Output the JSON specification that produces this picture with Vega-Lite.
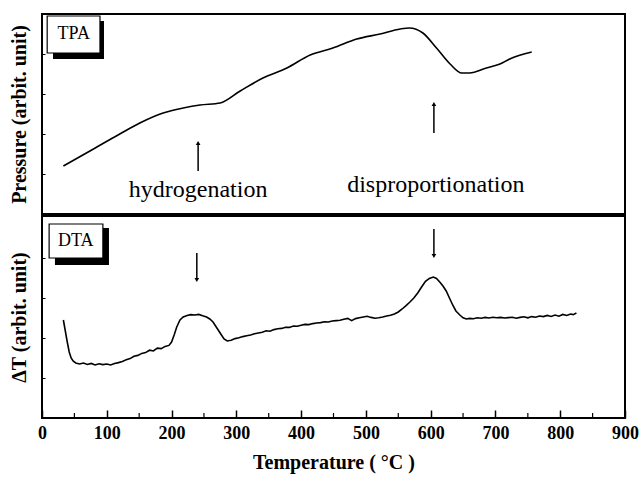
{
  "$schema": "https://vega.github.io/schema/vega-lite/v6.json",
  "padding": {"left": 8, "top": 13, "right": 14, "bottom": 5},
  "spacing": 0,
  "config": {
    "font": "Liberation Serif",
    "view": {"stroke": "black", "strokeWidth": 2},
    "axis": {"grid": false, "domain": false, "labelFont": "Liberation Serif", "titleFont": "Liberation Serif", "titleColor": "black", "labelColor": "black", "tickColor": "black"}
  },
  "datasets": {
    "tpa": [
      {"T": 33, "v": 24}, {"T": 74, "v": 31.5}, {"T": 120, "v": 40}, {"T": 151, "v": 45.5}, {"T": 187, "v": 50.5},
      {"T": 218, "v": 53}, {"T": 244, "v": 54.5}, {"T": 275, "v": 55.5}, {"T": 306, "v": 61.5}, {"T": 341, "v": 68},
      {"T": 378, "v": 73}, {"T": 414, "v": 79.5}, {"T": 449, "v": 83}, {"T": 486, "v": 87.5}, {"T": 522, "v": 90},
      {"T": 553, "v": 92.5}, {"T": 567, "v": 93}, {"T": 588, "v": 90.5}, {"T": 609, "v": 83}, {"T": 630, "v": 75},
      {"T": 648, "v": 70.5}, {"T": 660, "v": 70.5}, {"T": 686, "v": 73}, {"T": 707, "v": 75}, {"T": 722, "v": 77.5},
      {"T": 756, "v": 81}
    ],
    "dta": [
      {"T": 33, "v": 49}, {"T": 36, "v": 43.5}, {"T": 39, "v": 38}, {"T": 42, "v": 33}, {"T": 45, "v": 30},
      {"T": 48, "v": 28.5}, {"T": 52, "v": 27.5}, {"T": 58, "v": 27}, {"T": 64, "v": 27.5}, {"T": 70, "v": 26.8},
      {"T": 76, "v": 27.3}, {"T": 82, "v": 26.5}, {"T": 88, "v": 27.1}, {"T": 94, "v": 26.7}, {"T": 100, "v": 27},
      {"T": 106, "v": 26.5}, {"T": 112, "v": 27.3}, {"T": 118, "v": 27.7}, {"T": 124, "v": 28.3}, {"T": 130, "v": 29.1},
      {"T": 136, "v": 29.7}, {"T": 142, "v": 30.9}, {"T": 148, "v": 31.3}, {"T": 154, "v": 32.3}, {"T": 160, "v": 32.7},
      {"T": 166, "v": 33.9}, {"T": 172, "v": 33.5}, {"T": 178, "v": 34.9}, {"T": 184, "v": 34.7}, {"T": 190, "v": 35.8},
      {"T": 196, "v": 36.3}, {"T": 200, "v": 38}, {"T": 204, "v": 41.5}, {"T": 208, "v": 45.5}, {"T": 213, "v": 49},
      {"T": 218, "v": 50.5}, {"T": 224, "v": 51.3}, {"T": 230, "v": 51.7}, {"T": 236, "v": 51.5}, {"T": 242, "v": 51.8},
      {"T": 248, "v": 51.1}, {"T": 254, "v": 50.5}, {"T": 259, "v": 49.5}, {"T": 264, "v": 48}, {"T": 270, "v": 45},
      {"T": 276, "v": 42}, {"T": 281, "v": 39.5}, {"T": 286, "v": 38.5}, {"T": 292, "v": 38.9}, {"T": 298, "v": 39.7},
      {"T": 304, "v": 40.1}, {"T": 310, "v": 40.7}, {"T": 316, "v": 41.1}, {"T": 322, "v": 41.5}, {"T": 328, "v": 42.1},
      {"T": 334, "v": 42.5}, {"T": 340, "v": 42.9}, {"T": 346, "v": 43.6}, {"T": 352, "v": 43.4}, {"T": 358, "v": 44.2},
      {"T": 364, "v": 44.6}, {"T": 370, "v": 44.8}, {"T": 376, "v": 45.4}, {"T": 382, "v": 45.3}, {"T": 388, "v": 46},
      {"T": 394, "v": 45.9}, {"T": 400, "v": 46.4}, {"T": 406, "v": 46.8}, {"T": 412, "v": 46.7}, {"T": 418, "v": 47.2},
      {"T": 424, "v": 47.5}, {"T": 430, "v": 47.7}, {"T": 436, "v": 48.1}, {"T": 442, "v": 48}, {"T": 448, "v": 48.5},
      {"T": 454, "v": 48.7}, {"T": 460, "v": 48.9}, {"T": 466, "v": 49.4}, {"T": 472, "v": 49.8}, {"T": 478, "v": 48.7},
      {"T": 484, "v": 49.7}, {"T": 490, "v": 50.1}, {"T": 496, "v": 50.5}, {"T": 502, "v": 50.9}, {"T": 508, "v": 50.3},
      {"T": 514, "v": 49.9}, {"T": 520, "v": 50.1}, {"T": 526, "v": 50.5}, {"T": 532, "v": 51}, {"T": 538, "v": 51.4},
      {"T": 544, "v": 52}, {"T": 550, "v": 53}, {"T": 556, "v": 54.5}, {"T": 562, "v": 56.2}, {"T": 568, "v": 58},
      {"T": 574, "v": 60}, {"T": 580, "v": 62.5}, {"T": 586, "v": 65.5}, {"T": 592, "v": 68.3}, {"T": 598, "v": 69.8},
      {"T": 604, "v": 70.5}, {"T": 609, "v": 69.8}, {"T": 614, "v": 68}, {"T": 619, "v": 66}, {"T": 624, "v": 63.5},
      {"T": 629, "v": 60}, {"T": 634, "v": 56.5}, {"T": 639, "v": 53.5}, {"T": 645, "v": 51.5}, {"T": 650, "v": 50.1},
      {"T": 655, "v": 49.5}, {"T": 660, "v": 49.8}, {"T": 666, "v": 49.6}, {"T": 672, "v": 50.1}, {"T": 678, "v": 49.9},
      {"T": 684, "v": 50.3}, {"T": 690, "v": 50}, {"T": 696, "v": 50.4}, {"T": 702, "v": 50.1}, {"T": 708, "v": 50.3},
      {"T": 714, "v": 50}, {"T": 720, "v": 50.2}, {"T": 726, "v": 50.4}, {"T": 732, "v": 49.9}, {"T": 738, "v": 50.3},
      {"T": 744, "v": 50.6}, {"T": 750, "v": 50.1}, {"T": 756, "v": 50.7}, {"T": 762, "v": 50.4}, {"T": 768, "v": 51},
      {"T": 774, "v": 50.7}, {"T": 780, "v": 51.3}, {"T": 786, "v": 50.8}, {"T": 792, "v": 51.5}, {"T": 798, "v": 50.9},
      {"T": 804, "v": 51.8}, {"T": 810, "v": 51.3}, {"T": 816, "v": 52}, {"T": 820, "v": 51.7}, {"T": 825, "v": 52.5}
    ],
    "topArrows": [{"T": 241, "tail": 21.5, "tip": 35.5}, {"T": 605, "tail": 40.5, "tip": 55}],
    "botArrows": [{"T": 239, "tail": 82.5, "tip": 69}, {"T": 605, "tail": 94.5, "tip": 81}],
    "topLabels": [{"T": 241, "v": 12, "label": "hydrogenation"}, {"T": 608, "v": 14.5, "label": "disproportionation"}],
    "topBox": [{"x1": 8, "x2": 89.5, "y1": 80.5, "y2": 99, "sx1": 17, "sx2": 95.7, "sy1": 77.5, "sy2": 96.5, "tx": 49, "ty": 90, "label": "TPA"}],
    "botBox": [{"x1": 11, "x2": 94, "y1": 80, "y2": 97, "sx1": 20, "sx2": 103.4, "sy1": 76.5, "sy2": 95, "tx": 52, "ty": 88.5, "label": "DTA"}],
    "minor": [{"T": 50}, {"T": 150}, {"T": 250}, {"T": 350}, {"T": 450}, {"T": 550}, {"T": 650}, {"T": 750}, {"T": 850}]
  },
  "vconcat": [
    {
      "width": 583,
      "height": 200,
      "layer": [
        {
          "data": {"name": "topBox"},
          "mark": {"type": "rect", "color": "black"},
          "encoding": {
            "x": {"field": "sx1", "type": "quantitative", "scale": {"domain": [0, 900], "nice": false}, "axis": null},
            "x2": {"field": "sx2"},
            "y": {"field": "sy1", "type": "quantitative", "scale": {"domain": [0, 100], "nice": false}, "title": "Pressure (arbit. unit)",
                  "axis": {"labels": false, "tickSize": -3, "values": [20, 40, 60, 80], "titleFontSize": 20, "titleFontWeight": "bold", "titlePadding": 12}},
            "y2": {"field": "sy2"}
          }
        },
        {
          "data": {"name": "topBox"},
          "mark": {"type": "rect", "fill": "white", "stroke": "black", "strokeWidth": 1.2},
          "encoding": {
            "x": {"field": "x1", "type": "quantitative", "axis": null},
            "x2": {"field": "x2"},
            "y": {"field": "y1", "type": "quantitative", "title": "Pressure (arbit. unit)"},
            "y2": {"field": "y2"}
          }
        },
        {
          "data": {"name": "topBox"},
          "mark": {"type": "text", "fontSize": 18, "color": "black", "font": "Liberation Serif"},
          "encoding": {
            "x": {"field": "tx", "type": "quantitative", "axis": null},
            "y": {"field": "ty", "type": "quantitative", "title": "Pressure (arbit. unit)"},
            "text": {"field": "label"}
          }
        },
        {
          "data": {"name": "tpa"},
          "mark": {"type": "line", "color": "black", "strokeWidth": 1.6, "interpolate": "monotone"},
          "encoding": {
            "x": {"field": "T", "type": "quantitative", "axis": null},
            "y": {"field": "v", "type": "quantitative", "title": "Pressure (arbit. unit)"}
          }
        },
        {
          "data": {"name": "topArrows"},
          "mark": {"type": "rule", "color": "black", "strokeWidth": 1.5},
          "encoding": {
            "x": {"field": "T", "type": "quantitative", "axis": null},
            "y": {"field": "tail", "type": "quantitative", "title": "Pressure (arbit. unit)"},
            "y2": {"field": "tip"}
          }
        },
        {
          "data": {"name": "topArrows"},
          "mark": {"type": "point", "shape": "triangle-up", "filled": true, "color": "black", "size": 22, "opacity": 1},
          "encoding": {
            "x": {"field": "T", "type": "quantitative", "axis": null},
            "y": {"field": "tip", "type": "quantitative", "title": "Pressure (arbit. unit)"}
          }
        },
        {
          "data": {"name": "topLabels"},
          "mark": {"type": "text", "fontSize": 24, "color": "black", "font": "Liberation Serif"},
          "encoding": {
            "x": {"field": "T", "type": "quantitative", "axis": null},
            "y": {"field": "v", "type": "quantitative", "title": "Pressure (arbit. unit)"},
            "text": {"field": "label"}
          }
        }
      ]
    },
    {
      "width": 583,
      "height": 202,
      "layer": [
        {
          "data": {"name": "botBox"},
          "mark": {"type": "rect", "color": "black"},
          "encoding": {
            "x": {"field": "sx1", "type": "quantitative", "scale": {"domain": [0, 900], "nice": false}, "title": "Temperature ( °C )",
                  "axis": {"values": [0, 100, 200, 300, 400, 500, 600, 700, 800, 900], "tickSize": -8, "tickWidth": 1.5, "labelPadding": 14, "labelFontSize": 18, "labelFontWeight": "bold", "titleFontSize": 20, "titleFontWeight": "bold", "titlePadding": 10, "labelFlush": false}},
            "x2": {"field": "sx2"},
            "y": {"field": "sy1", "type": "quantitative", "scale": {"domain": [0, 101], "nice": false}, "title": "ΔT (arbit. unit)",
                  "axis": {"labels": false, "tickSize": -3, "values": [20, 40, 60, 80], "titleFontSize": 20, "titleFontWeight": "bold", "titlePadding": 12}},
            "y2": {"field": "sy2"}
          }
        },
        {
          "data": {"name": "botBox"},
          "mark": {"type": "rect", "fill": "white", "stroke": "black", "strokeWidth": 1.2},
          "encoding": {
            "x": {"field": "x1", "type": "quantitative", "title": "Temperature ( °C )"},
            "x2": {"field": "x2"},
            "y": {"field": "y1", "type": "quantitative", "title": "ΔT (arbit. unit)"},
            "y2": {"field": "y2"}
          }
        },
        {
          "data": {"name": "botBox"},
          "mark": {"type": "text", "fontSize": 18, "color": "black", "font": "Liberation Serif"},
          "encoding": {
            "x": {"field": "tx", "type": "quantitative", "title": "Temperature ( °C )"},
            "y": {"field": "ty", "type": "quantitative", "title": "ΔT (arbit. unit)"},
            "text": {"field": "label"}
          }
        },
        {
          "data": {"name": "dta"},
          "mark": {"type": "line", "color": "black", "strokeWidth": 1.6},
          "encoding": {
            "x": {"field": "T", "type": "quantitative", "title": "Temperature ( °C )"},
            "y": {"field": "v", "type": "quantitative", "title": "ΔT (arbit. unit)"}
          }
        },
        {
          "data": {"name": "botArrows"},
          "mark": {"type": "rule", "color": "black", "strokeWidth": 1.5},
          "encoding": {
            "x": {"field": "T", "type": "quantitative", "title": "Temperature ( °C )"},
            "y": {"field": "tail", "type": "quantitative", "title": "ΔT (arbit. unit)"},
            "y2": {"field": "tip"}
          }
        },
        {
          "data": {"name": "botArrows"},
          "mark": {"type": "point", "shape": "triangle-down", "filled": true, "color": "black", "size": 22, "opacity": 1},
          "encoding": {
            "x": {"field": "T", "type": "quantitative", "title": "Temperature ( °C )"},
            "y": {"field": "tip", "type": "quantitative", "title": "ΔT (arbit. unit)"}
          }
        },
        {
          "data": {"name": "minor"},
          "mark": {"type": "rule", "color": "black", "strokeWidth": 1.2},
          "encoding": {
            "x": {"field": "T", "type": "quantitative", "title": "Temperature ( °C )"},
            "y": {"datum": 0, "type": "quantitative", "title": "ΔT (arbit. unit)"},
            "y2": {"datum": 2.5}
          }
        }
      ]
    }
  ]
}
